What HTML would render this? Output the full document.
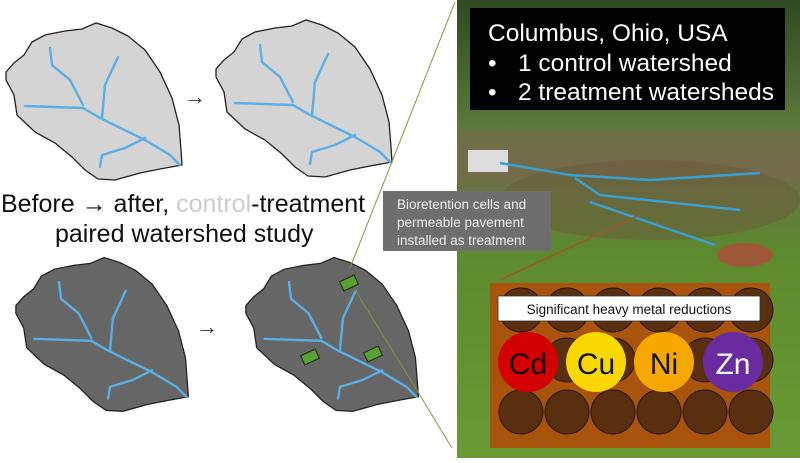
<!DOCTYPE html>
<html><head><meta charset="utf-8"><style>
body{margin:0;width:800px;height:458px;overflow:hidden;background:#fff;font-family:"Liberation Sans",sans-serif;}
</style></head><body>
<svg width="800" height="458" xmlns="http://www.w3.org/2000/svg">
<defs>
<path id="ws" d="M6,72 L14,63 L24,55 L32,42 L45,35 L65,31 L82,29 L96,23 L112,28 L128,36 L145,50 L160,72 L172,98 L179,125 L181,150 L182,165 L160,169 L140,173 L115,180 L98,179 L85,170 L72,157 L55,143 L35,132 L17,115 L14,95 L6,80 Z"/>
<g id="rv" fill="none" stroke="#5ab0e6" stroke-width="2.4" stroke-linecap="round">
<path d="M25,106 L83,108 L100,118 L145,140 L170,155 L180,165"/>
<path d="M50,48 L52,65 L70,80 L83,105"/>
<path d="M118,57 L105,85 L102,118"/>
<path d="M100,167 L102,155 L125,148 L145,138"/>
</g>
<linearGradient id="sky" x1="0" y1="0" x2="0" y2="1">
<stop offset="0" stop-color="#2f4a22"/><stop offset="0.28" stop-color="#5c7a3a"/><stop offset="0.35" stop-color="#6d6a4c"/><stop offset="0.55" stop-color="#5c8a2e"/><stop offset="1" stop-color="#6a9a34"/>
</linearGradient>
</defs>
<g transform="translate(0,0)"><use href="#ws" fill="#d4d4d4" stroke="#222" stroke-width="1.3"/><use href="#rv"/></g>
<g transform="translate(210,-3)"><use href="#ws" fill="#d4d4d4" stroke="#222" stroke-width="1.3"/><use href="#rv"/></g>
<g transform="translate(10,235) scale(0.98)"><use href="#ws" fill="#666" stroke="#222" stroke-width="1.3"/><use href="#rv"/></g>
<g transform="translate(240,235) scale(0.98)"><use href="#ws" fill="#666" stroke="#222" stroke-width="1.3"/><use href="#rv"/></g>
<text x="184" y="104" font-size="22" fill="#333">→</text>
<text x="196" y="334" font-size="22" fill="#333">→</text>
<g fill="#5aa032" stroke="#1e3a10" stroke-width="1.2">
<rect x="341" y="278" width="16" height="10" transform="rotate(-25 349 283)"/>
<rect x="302" y="352" width="16" height="10" transform="rotate(-25 310 357)"/>
<rect x="365" y="349" width="16" height="10" transform="rotate(-25 373 354)"/>
</g>
<g stroke="#7a9a3a" stroke-width="1" fill="none">
<line x1="455" y1="2" x2="350" y2="268"/>
<line x1="355" y1="290" x2="418" y2="392"/>
<line x1="418" y1="392" x2="452" y2="448"/>
</g>
<text x="1" y="212" font-size="25" fill="#111">Before → after, <tspan fill="#ccc">control</tspan>-treatment</text>
<text x="55" y="242" font-size="25" fill="#111">paired watershed study</text>
<rect x="457" y="0" width="343" height="458" fill="url(#sky)"/>
<rect x="457" y="130" width="343" height="50" fill="#7a6a4a" opacity="0.5"/>
<ellipse cx="650" cy="200" rx="150" ry="40" fill="#6a5a3a" opacity="0.5"/>
<rect x="468" y="150" width="40" height="22" fill="#ddd"/>
<ellipse cx="745" cy="255" rx="28" ry="12" fill="#a0583a"/>
<g stroke="#3aa0d0" stroke-width="2.5" fill="none">
<path d="M500,163 L570,175 L650,180 L760,173"/>
<path d="M575,178 L600,195 L740,210"/>
<path d="M590,202 L715,245"/>
</g>
<rect x="470" y="8" width="315" height="102" fill="#000"/>
<text x="488" y="41" font-size="24.5" fill="#fff">Columbus, Ohio, USA</text>
<text x="488" y="71" font-size="24.5" fill="#fff">•<tspan x="518">1 control watershed</tspan></text>
<text x="488" y="100" font-size="24.5" fill="#fff">•<tspan x="518">2 treatment watersheds</tspan></text>
<rect x="383" y="191" width="168" height="60" fill="#6e6e6e"/>
<text x="397" y="209" font-size="13.5" fill="#eee">Bioretention cells and</text>
<text x="397" y="227" font-size="13.5" fill="#eee">permeable pavement</text>
<text x="397" y="245" font-size="13.5" fill="#eee">installed as treatment</text>
<line x1="500" y1="280" x2="640" y2="215" stroke="#a0582a" stroke-width="1.5"/>
<rect x="490" y="283" width="280" height="165" fill="#a8540c"/>
<g fill="#5a2f10" stroke="#2a1508" stroke-width="1">
<circle cx="521" cy="310" r="22"/><circle cx="567" cy="310" r="22"/><circle cx="613" cy="310" r="22"/><circle cx="659" cy="310" r="22"/><circle cx="705" cy="310" r="22"/><circle cx="751" cy="310" r="22"/>
<circle cx="521" cy="360" r="22"/><circle cx="567" cy="360" r="22"/><circle cx="613" cy="360" r="22"/><circle cx="659" cy="360" r="22"/><circle cx="705" cy="360" r="22"/><circle cx="751" cy="360" r="22"/>
<circle cx="521" cy="412" r="22"/><circle cx="567" cy="412" r="22"/><circle cx="613" cy="412" r="22"/><circle cx="659" cy="412" r="22"/><circle cx="705" cy="412" r="22"/><circle cx="751" cy="412" r="22"/>
</g>
<rect x="498" y="296" width="262" height="25" fill="#fff" stroke="#333" stroke-width="0.8"/>
<text x="629" y="314" font-size="13.5" fill="#111" text-anchor="middle">Significant heavy metal reductions</text>
<circle cx="528" cy="362" r="30" fill="#d40000"/>
<circle cx="596" cy="362" r="30" fill="#f8d800"/>
<circle cx="664" cy="362" r="30" fill="#f6a800"/>
<circle cx="733" cy="362" r="30" fill="#6a2aa0"/>
<text x="528" y="374" font-size="30" fill="#111" text-anchor="middle">Cd</text>
<text x="596" y="374" font-size="30" fill="#111" text-anchor="middle">Cu</text>
<text x="664" y="374" font-size="30" fill="#111" text-anchor="middle">Ni</text>
<text x="733" y="374" font-size="30" fill="#fff" text-anchor="middle">Zn</text>
</svg>
</body></html>
